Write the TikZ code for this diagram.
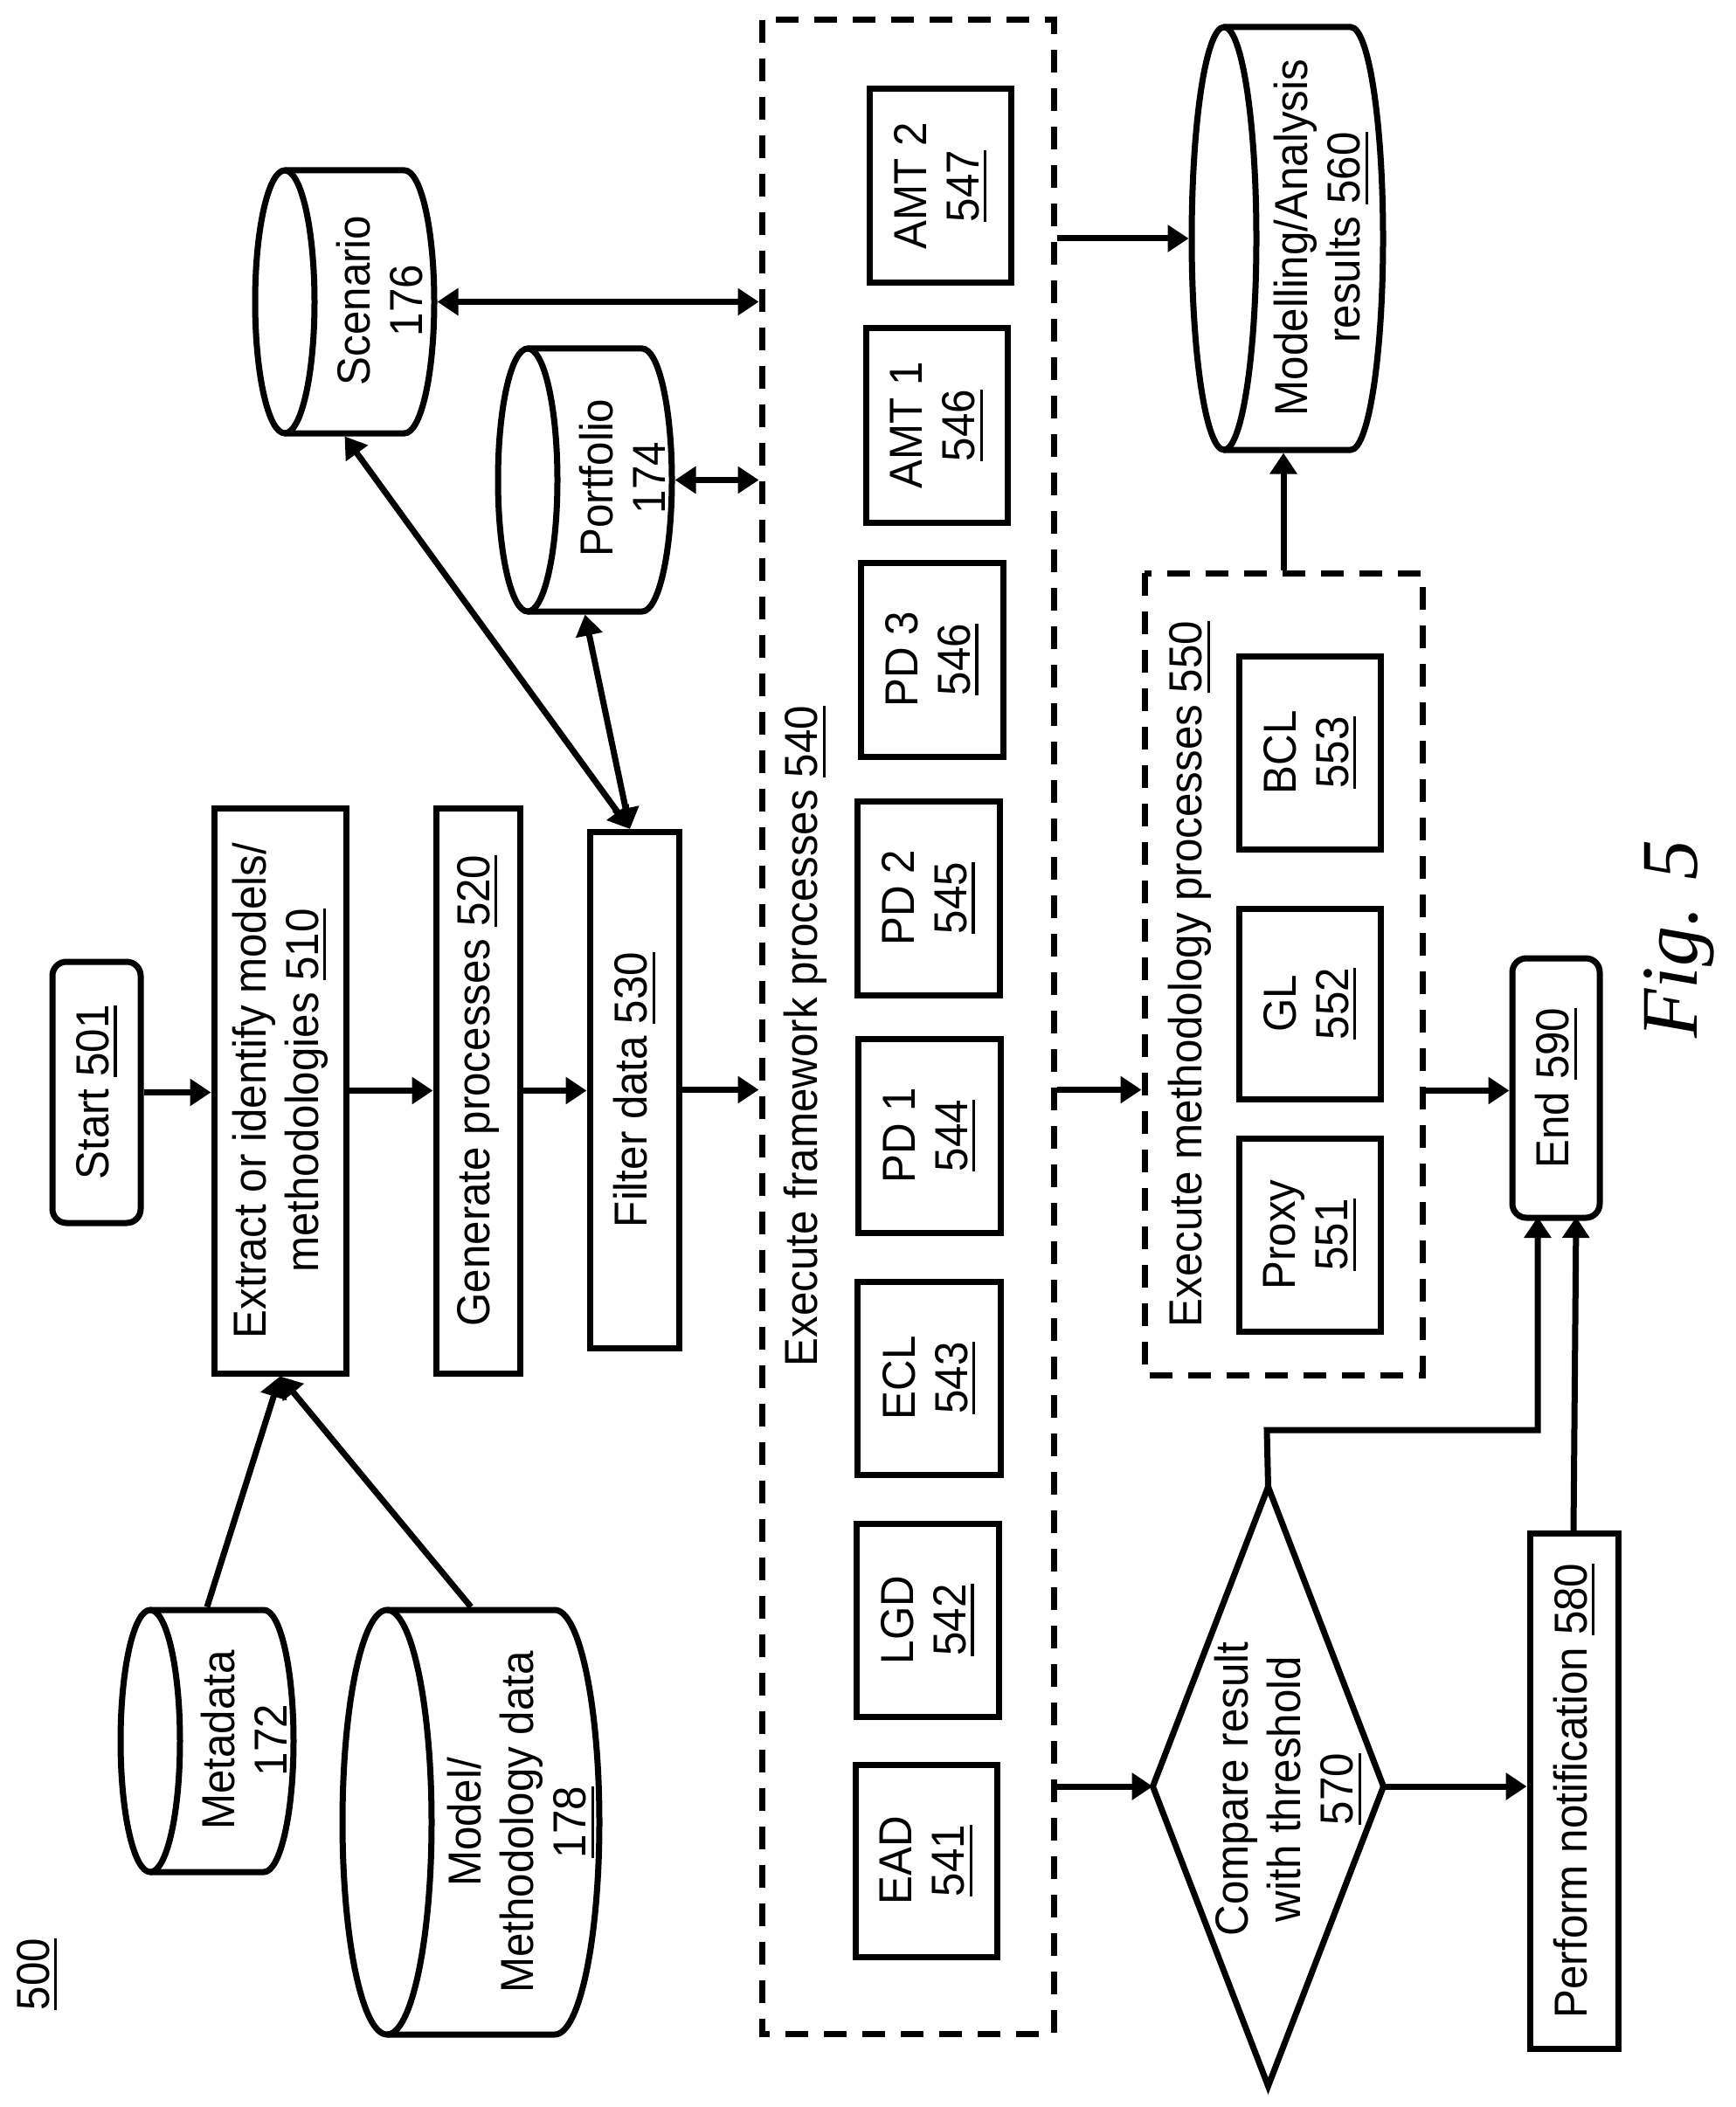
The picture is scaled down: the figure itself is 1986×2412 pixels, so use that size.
\documentclass[tikz,border=0pt]{standalone}
\usepackage{fontspec}
\setmainfont[FakeStretch=0.93]{Liberation Sans}
\newfontfamily\figfont{Liberation Serif}
\usetikzlibrary{arrows.meta,shapes.geometric}
\newcommand{\ulnum}[1]{\setbox0=\hbox{#1}\leavevmode\rlap{\rule[-4.5pt]{\wd0}{1.6pt}}\box0 }
\tikzset{
  ln/.style={line width=3.5pt,line cap=butt,line join=miter},
  txt/.style={font=\fontsize{26.5}{30}\selectfont,align=center,rotate=90,inner sep=0pt},
  solidbox/.style={draw,ln,rotate=90,inner sep=0pt,align=center,font=\fontsize{26.5}{30}\selectfont},
  roundbox/.style={solidbox,rounded corners=8pt},
  dashbox/.style={draw,ln,rotate=90,inner sep=0pt,dash pattern=on 13pt off 9pt},
  cylbody/.style={rotate=90,inner sep=0pt,outer sep=1.75pt},
  conn/.style={ln,-{Triangle[length=12pt,width=15pt]}},
  dconn/.style={ln,{Triangle[length=12pt,width=15pt]}-{Triangle[length=12pt,width=15pt]}},
}
% name, x0, x1, y0, y1, style, text
\newcommand{\bx}[7]{%
  \pgfmathsetmacro{\bxw}{((#5)-(#4))*0.5}%
  \pgfmathsetmacro{\bxh}{((#3)-(#2))*0.5}%
  \pgfmathsetmacro{\bxcx}{((#2)+(#3))/2}%
  \pgfmathsetmacro{\bxcy}{((#4)+(#5))/2}%
  \node[#6,minimum width=\bxw pt,minimum height=\bxh pt] (#1) at (\bxcx,\bxcy) {#7};}
% name, x0, x1, y0, y1, rx
\newcommand{\dbcyl}[6]{%
  \pgfmathsetmacro{\cw}{((#5)-(#4))*0.5}%
  \pgfmathsetmacro{\ch}{((#3)-(#2))*0.5}%
  \pgfmathsetmacro{\cx}{((#2)+(#3))/2}%
  \pgfmathsetmacro{\cy}{((#4)+(#5))/2}%
  \pgfmathsetmacro{\ca}{(#2)+(#6)}%
  \pgfmathsetmacro{\cb}{(#3)-(#6)}%
  \pgfmathsetmacro{\crx}{(#6)*0.5}%
  \pgfmathsetmacro{\cry}{((#5)-(#4))/2*0.5}%
  \node[cylbody,minimum width=\cw pt,minimum height=\ch pt] (#1) at (\cx,\cy) {};
  \draw[ln] (\ca,#4) -- (\cb,#4) arc[start angle=90,end angle=-90,x radius=\crx pt,y radius=\cry pt] -- (\ca,#5);
  \draw[ln] (\ca,\cy) ellipse[x radius=\crx pt,y radius=\cry pt];}
\begin{document}
\begin{tikzpicture}[x=0.5pt,y=-0.5pt]
\useasboundingbox[fill=white] (0,0) rectangle (1986,2412);

\node[txt] (n500) at (42,2260) {\ulnum{500}};

% left column
\bx{start}{60}{161}{1101}{1400}{roundbox}{Start \ulnum{501}}
\bx{extract}{245}{396}{925}{1572}{solidbox}{Extract or identify models/\\methodologies \ulnum{510}}
\bx{generate}{499}{595}{925}{1572}{solidbox}{Generate processes \ulnum{520}}
\bx{filter}{675}{777}{952}{1543}{solidbox}{Filter data \ulnum{530}}

% databases
\dbcyl{scenario}{292}{497}{195}{496}{34}
\node[txt] (scenariotxt) at (435,344) {Scenario\\176};
\dbcyl{portfolio}{570}{769}{399}{700}{34}
\node[txt] (portfoliotxt) at (712,547) {Portfolio\\174};
\dbcyl{metadata}{138}{336}{1843}{2143}{34}
\node[txt] (metadatatxt) at (279,1992) {Metadata\\172};
\dbcyl{model}{392}{686}{1843}{2329}{51}
\node[txt] (modeltxt) at (596,2086) {Model/\\Methodology data\\\ulnum{178}};
\dbcyl{results}{1364}{1583}{31}{515}{37}
\node[txt] (resultstxt) at (1512,272) {Modelling/Analysis\\results \ulnum{560}};

% framework
\bx{outer}{872}{1206}{23}{2328}{dashbox}{}
\node[txt] (outertxt) at (922,1186) {Execute framework processes \ulnum{540}};
\bx{ead}{979}{1141}{2020}{2240}{solidbox}{EAD\\\ulnum{541}}
\bx{lgd}{980}{1143}{1744}{1965}{solidbox}{LGD\\\ulnum{542}}
\bx{ecl}{981}{1145}{1467}{1688}{solidbox}{ECL\\\ulnum{543}}
\bx{pda}{982}{1145}{1189}{1411}{solidbox}{PD 1\\\ulnum{544}}
\bx{pdb}{981}{1144}{917}{1139}{solidbox}{PD 2\\\ulnum{545}}
\bx{pdc}{985}{1148}{644}{866}{solidbox}{PD 3\\\ulnum{546}}
\bx{amta}{991}{1153}{376}{598}{solidbox}{AMT 1\\\ulnum{546}}
\bx{amtb}{995}{1157}{102}{324}{solidbox}{AMT 2\\\ulnum{547}}

% methodology
\bx{meth}{1310}{1628}{656}{1574}{dashbox}{}
\node[txt] (methtxt) at (1362,1115) {Execute methodology processes \ulnum{550}};
\bx{bcl}{1418}{1580}{751}{972}{solidbox}{BCL\\\ulnum{553}}
\bx{gl}{1418}{1580}{1040}{1258}{solidbox}{GL\\\ulnum{552}}
\bx{proxy}{1418}{1580}{1303}{1524}{solidbox}{Proxy\\\ulnum{551}}

% end column
\bx{endn}{1731}{1831}{1097}{1394}{roundbox}{End \ulnum{590}}
\bx{perform}{1751}{1852}{1755}{2345}{solidbox}{Perform notification \ulnum{580}}

% decision
\node[draw,ln,diamond,inner sep=0pt,outer sep=0pt,minimum width=132pt,minimum height=343pt] (dia) at (1451.5,2045) {};
\node[txt] (diatxt) at (1474,2048) {Compare result\\with threshold\\\ulnum{570}};

\node[rotate=90,inner sep=0pt,font=\fontsize{46}{54}\selectfont\figfont\itshape] (figlabel) at (1922,1075) {Fig. 5};

% free connector ends
\coordinate (filtertop) at (721,949);
\coordinate (elbow) at (1450,1637);
\coordinate (endleft) at (1760,1393);
\coordinate (endright) at (1804,1393);
\coordinate (performtop) at (1801,1752);

% connectors
\draw[conn] (start.south) -- (start.south -| extract.north);
\draw[conn] (extract.south) -- (generate.north);
\draw[conn] (generate.south) -- (generate.south -| filter.north);
\draw[conn] (filter.south) -- (filter.south -| outer.north);
\draw[dconn] (scenario.south) -- (scenario.south -| outer.north);
\draw[dconn] (portfolio.south) -- (portfolio.south -| outer.north);
\draw[dconn] (filtertop) -- (scenario.west);
\draw[dconn] (filtertop) -- (portfolio.west);
\draw[conn] (metadata.east) -- (extract.west);
\draw[conn] (model.east) -- (extract.west);
\draw[conn] (results.north -| outer.south) -- (results.north);
\draw[conn] (meth.east) -- (meth.east |- results.west);
\draw[conn] (filter.south -| outer.south) -- (filter.south -| meth.north);
\draw[conn] (extract.south -| meth.south) -- (extract.south -| endn.north);
\draw[conn] (dia.west -| outer.south) -- (dia.west);
\draw[conn] (dia.east) -- (dia.east -| perform.north);
\draw[conn] (dia.north) -- (elbow) -| (endleft);
\draw[conn] (performtop) -- (endright);
\end{tikzpicture}
\end{document}
